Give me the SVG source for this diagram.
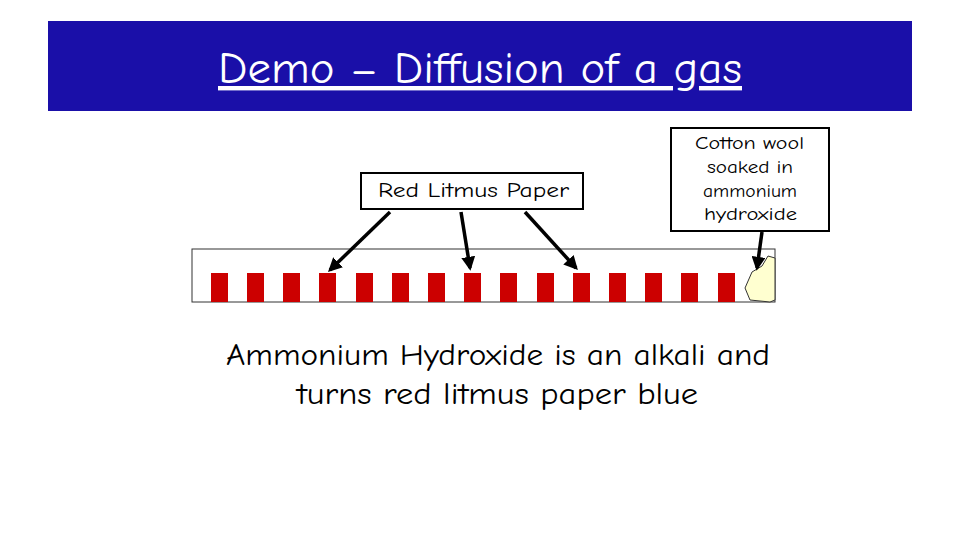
<svg xmlns="http://www.w3.org/2000/svg" width="960" height="540" viewBox="0 0 960 540">
<style>
text{font-family:"Comic Neue","DejaVu Sans","Liberation Sans",sans-serif}
.lit{fill:#cc0000}
.lbl{fill:#fff;stroke:#000;stroke-width:2}
.arr{stroke:#000;stroke-width:3.5;fill:none;marker-end:url(#ah)}
</style>
<defs>
<marker id="ah" viewBox="0 0 10 10" refX="8" refY="5" markerWidth="4" markerHeight="4" orient="auto"><path d="M0,0L10,5L0,10z" fill="#000"/></marker>
</defs>
<rect width="960" height="540" fill="#fff"/>
<g id="title">
<rect x="48" y="21" width="864" height="90" fill="#1a0fa8"/>
<text x="218" y="83" font-size="44" fill="#fff" text-decoration="underline" textLength="524" lengthAdjust="spacingAndGlyphs">Demo – Diffusion of a gas</text>
</g>
<g id="tube">
<rect x="192" y="249" width="583" height="53" fill="#fff" stroke="#333" stroke-width="1"/>
<g class="lit">
<rect x="211" y="273" width="17" height="29"/><rect x="247" y="273" width="17" height="29"/><rect x="283" y="273" width="17" height="29"/><rect x="319" y="273" width="17" height="29"/><rect x="356" y="273" width="17" height="29"/><rect x="392" y="273" width="17" height="29"/><rect x="428" y="273" width="17" height="29"/><rect x="464" y="273" width="17" height="29"/><rect x="500" y="273" width="17" height="29"/><rect x="537" y="273" width="17" height="29"/><rect x="573" y="273" width="17" height="29"/><rect x="609" y="273" width="17" height="29"/><rect x="645" y="273" width="17" height="29"/><rect x="681" y="273" width="17" height="29"/><rect x="718" y="273" width="17" height="29"/>
</g>
<path d="M768,256L762,266L752,272L745,288L750,300L770,302L775,300L775,258Z" fill="#ffffd0" stroke="#333" stroke-width="1"/>
</g>
<g id="label-litmus">
<rect class="lbl" x="361" y="173" width="222" height="36"/>
<text x="378" y="197" font-size="21" textLength="191" lengthAdjust="spacingAndGlyphs">Red Litmus Paper</text>
</g>
<g id="label-cotton">
<rect class="lbl" x="671" y="128" width="158" height="103"/>
<text font-size="19"><tspan x="695" y="149" textLength="109" lengthAdjust="spacingAndGlyphs">Cotton wool</tspan><tspan x="707" y="173" textLength="86" lengthAdjust="spacingAndGlyphs">soaked in</tspan><tspan x="703" y="197" textLength="94" lengthAdjust="spacingAndGlyphs">ammonium</tspan><tspan x="704" y="220" textLength="93" lengthAdjust="spacingAndGlyphs">hydroxide</tspan></text>
</g>
<g id="connectors">
<line class="arr" x1="390" y1="212" x2="330" y2="270"/>
<line class="arr" x1="461" y1="212" x2="470" y2="268"/>
<line class="arr" x1="525" y1="212" x2="576" y2="268"/>
<line class="arr" x1="762" y1="232" x2="757" y2="268"/>
</g>
<g id="caption">
<text font-size="31"><tspan x="226" y="365" textLength="544" lengthAdjust="spacingAndGlyphs">Ammonium Hydroxide is an alkali and</tspan><tspan x="297" y="404" textLength="401" lengthAdjust="spacingAndGlyphs">turns red litmus paper blue</tspan></text>
</g>
</svg>
